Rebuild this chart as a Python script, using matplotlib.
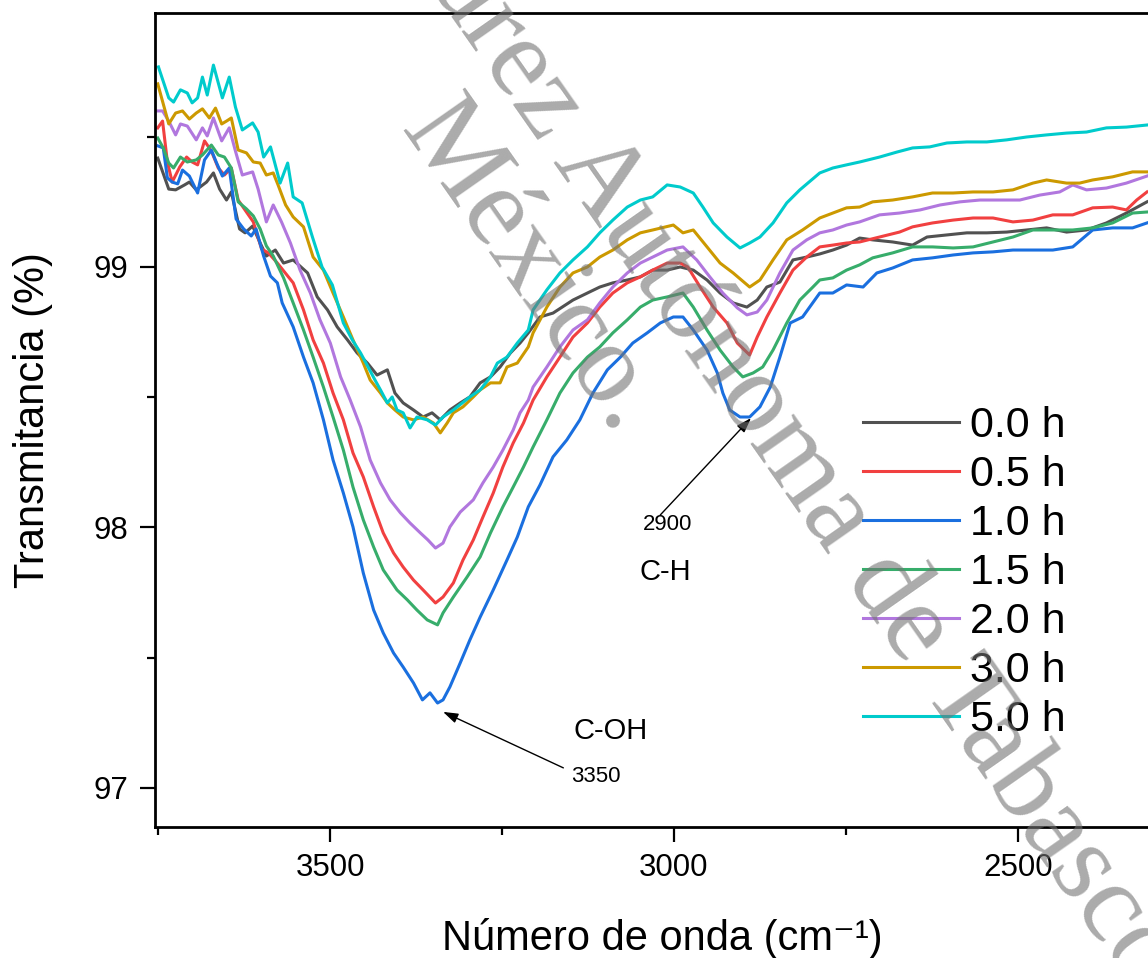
#!/usr/bin/env python3
"""FTIR spectra (transmittance vs wavenumber) for different treatment times."""

import matplotlib
matplotlib.use("Agg")
import matplotlib.pyplot as plt
from matplotlib.ticker import MultipleLocator

plt.rcParams["font.family"] = ["Liberation Sans", "DejaVu Sans"]

# ---- data (wavenumber cm-1, transmittance %) ----
LABELS = ["0.0 h", "0.5 h", "1.0 h", "1.5 h", "2.0 h", "3.0 h", "5.0 h"]
COLORS = ["#515151", "#F14040", "#1A6FDF", "#37AD6B", "#B177DE", "#CC9900", "#00CBCC"]

WN_00 = [3751, 3735, 3725, 3712, 3705, 3695, 3680, 3670, 3661, 3651,
         3644, 3632, 3624, 3613, 3602, 3593, 3580, 3568, 3554, 3533,
         3519, 3504, 3490, 3475, 3461, 3446, 3432, 3417, 3406, 3394,
         3379, 3365, 3352, 3340, 3326, 3311, 3297, 3282, 3267, 3253,
         3238, 3224, 3212, 3195, 3176, 3147, 3126, 3108, 3089, 3068,
         3049, 3031, 3010, 2991, 2972, 2952, 2933, 2914, 2894, 2879,
         2865, 2846, 2827, 2807, 2788, 2769, 2749, 2730, 2711, 2682,
         2653, 2632, 2603, 2574, 2545, 2516, 2487, 2458, 2429, 2400,
         2371, 2342, 2312]
T_00 = [99.418, 99.299, 99.296, 99.315, 99.326, 99.296, 99.326, 99.361, 99.299, 99.257,
        99.288, 99.146, 99.131, 99.157, 99.092, 99.042, 99.065, 99.015, 99.027, 98.977,
        98.885, 98.835, 98.770, 98.720, 98.670, 98.631, 98.585, 98.605, 98.516, 98.478,
        98.451, 98.424, 98.440, 98.413, 98.451, 98.478, 98.501, 98.555, 98.578, 98.616,
        98.670, 98.708, 98.747, 98.808, 98.823, 98.873, 98.900, 98.923, 98.939, 98.950,
        98.962, 98.988, 98.988, 99.000, 98.988, 98.950, 98.900, 98.862, 98.846, 98.873,
        98.923, 98.942, 99.027, 99.038, 99.050, 99.065, 99.084, 99.111, 99.104, 99.096,
        99.084, 99.115, 99.123, 99.131, 99.131, 99.134, 99.142, 99.150, 99.134, 99.142,
        99.169, 99.207, 99.250]

WN_05 = [3751, 3744, 3737, 3730, 3719, 3709, 3701, 3693, 3683, 3673,
         3663, 3654, 3644, 3634, 3622, 3612, 3600, 3590, 3577, 3554,
         3539, 3525, 3510, 3496, 3481, 3467, 3452, 3437, 3423, 3408,
         3394, 3379, 3365, 3347, 3336, 3321, 3307, 3292, 3278, 3263,
         3249, 3234, 3219, 3205, 3185, 3166, 3147, 3126, 3108, 3089,
         3068, 3049, 3031, 3010, 2991, 2980, 2962, 2943, 2923, 2908,
         2890, 2879, 2865, 2846, 2827, 2807, 2788, 2769, 2749, 2730,
         2701, 2672, 2653, 2624, 2594, 2565, 2536, 2507, 2478, 2449,
         2420, 2391, 2362, 2342, 2327, 2312]
T_05 = [99.534, 99.560, 99.403, 99.326, 99.384, 99.422, 99.403, 99.392, 99.484, 99.445,
        99.380, 99.353, 99.380, 99.257, 99.211, 99.173, 99.069, 99.054, 99.015, 98.939,
        98.835, 98.720, 98.631, 98.516, 98.413, 98.286, 98.194, 98.079, 97.979, 97.902,
        97.848, 97.798, 97.760, 97.710, 97.733, 97.787, 97.875, 97.952, 98.040, 98.132,
        98.232, 98.324, 98.401, 98.489, 98.578, 98.654, 98.731, 98.785, 98.846, 98.900,
        98.939, 98.962, 98.988, 99.015, 99.015, 99.000, 98.923, 98.846, 98.785, 98.708,
        98.662, 98.731, 98.808, 98.900, 98.988, 99.038, 99.077, 99.084, 99.092, 99.096,
        99.115, 99.134, 99.154, 99.169, 99.180, 99.188, 99.188, 99.173, 99.180, 99.200,
        99.200, 99.227, 99.230, 99.219, 99.257, 99.288]

WN_10 = [3751, 3743, 3737, 3730, 3722, 3715, 3705, 3693, 3683, 3673,
         3666, 3657, 3647, 3637, 3626, 3615, 3608, 3597, 3587, 3577,
         3570, 3554, 3539, 3525, 3510, 3496, 3481, 3467, 3452, 3437,
         3423, 3408, 3394, 3379, 3366, 3355, 3344, 3336, 3326, 3311,
         3297, 3282, 3263, 3243, 3228, 3212, 3195, 3176, 3156, 3137,
         3118, 3097, 3078, 3060, 3039, 3020, 3001, 2987, 2972, 2952,
         2937, 2929, 2919, 2904, 2890, 2875, 2860, 2846, 2831, 2813,
         2788, 2769, 2749, 2725, 2705, 2682, 2653, 2624, 2594, 2565,
         2536, 2507, 2478, 2449, 2420, 2391, 2362, 2333, 2312]
T_10 = [99.465, 99.457, 99.342, 99.326, 99.319, 99.372, 99.349, 99.284, 99.411, 99.449,
        99.403, 99.349, 99.380, 99.184, 99.146, 99.119, 99.146, 99.042, 98.965, 98.939,
        98.862, 98.770, 98.654, 98.555, 98.413, 98.259, 98.132, 98.002, 97.825, 97.683,
        97.595, 97.518, 97.464, 97.403, 97.338, 97.365, 97.326, 97.338, 97.388, 97.480,
        97.568, 97.656, 97.760, 97.875, 97.963, 98.079, 98.163, 98.271, 98.336, 98.413,
        98.516, 98.605, 98.654, 98.708, 98.747, 98.785, 98.808, 98.808, 98.758, 98.681,
        98.593, 98.516, 98.451, 98.424, 98.424, 98.463, 98.539, 98.654, 98.785, 98.808,
        98.900, 98.900, 98.931, 98.923, 98.977, 98.996, 99.027, 99.035, 99.046, 99.054,
        99.058, 99.065, 99.065, 99.065, 99.077, 99.142, 99.150, 99.150, 99.169]

WN_15 = [3751, 3743, 3735, 3728, 3718, 3708, 3695, 3686, 3673, 3663,
         3654, 3644, 3634, 3622, 3612, 3602, 3593, 3583, 3568, 3554,
         3539, 3525, 3510, 3496, 3481, 3467, 3452, 3437, 3423, 3403,
         3388, 3374, 3359, 3344, 3336, 3321, 3301, 3282, 3267, 3249,
         3234, 3219, 3205, 3185, 3166, 3147, 3126, 3108, 3089, 3068,
         3049, 3031, 3010, 2987, 2972, 2952, 2933, 2914, 2900, 2885,
         2871, 2856, 2836, 2817, 2798, 2788, 2769, 2749, 2730, 2711,
         2682, 2653, 2624, 2594, 2565, 2536, 2507, 2478, 2449, 2420,
         2391, 2362, 2333, 2312]
T_15 = [99.495, 99.457, 99.399, 99.380, 99.422, 99.403, 99.411, 99.430, 99.468, 99.430,
        99.422, 99.380, 99.250, 99.223, 99.196, 99.146, 99.081, 99.042, 98.958, 98.862,
        98.758, 98.654, 98.539, 98.424, 98.297, 98.155, 98.029, 97.925, 97.837, 97.760,
        97.722, 97.683, 97.645, 97.626, 97.672, 97.733, 97.810, 97.887, 97.979, 98.079,
        98.155, 98.232, 98.309, 98.413, 98.516, 98.593, 98.654, 98.693, 98.747, 98.797,
        98.846, 98.873, 98.885, 98.900, 98.846, 98.758, 98.681, 98.616, 98.578, 98.593,
        98.616, 98.681, 98.785, 98.873, 98.923, 98.950, 98.958, 98.988, 99.008, 99.035,
        99.054, 99.077, 99.077, 99.073, 99.077, 99.096, 99.115, 99.142, 99.142, 99.142,
        99.150, 99.169, 99.207, 99.211]

WN_20 = [3751, 3744, 3735, 3725, 3718, 3708, 3695, 3686, 3679, 3670,
         3658, 3647, 3638, 3628, 3613, 3605, 3593, 3583, 3571, 3558,
         3544, 3529, 3515, 3500, 3485, 3471, 3456, 3442, 3427, 3413,
         3398, 3384, 3369, 3358, 3347, 3336, 3326, 3311, 3292, 3278,
         3263, 3249, 3234, 3224, 3212, 3205, 3185, 3166, 3147, 3126,
         3108, 3089, 3068, 3049, 3031, 3010, 2987, 2967, 2948, 2929,
         2908, 2894, 2879, 2865, 2846, 2827, 2807, 2788, 2769, 2749,
         2730, 2701, 2672, 2642, 2613, 2584, 2555, 2526, 2497, 2468,
         2439, 2420, 2400, 2371, 2342, 2312]
T_20 = [99.599, 99.599, 99.560, 99.507, 99.549, 99.541, 99.488, 99.534, 99.503, 99.572,
        99.484, 99.534, 99.445, 99.353, 99.365, 99.299, 99.173, 99.238, 99.173, 99.092,
        98.988, 98.900, 98.797, 98.708, 98.578, 98.489, 98.386, 98.259, 98.171, 98.106,
        98.056, 98.017, 97.979, 97.952, 97.921, 97.940, 98.002, 98.059, 98.106, 98.171,
        98.232, 98.297, 98.374, 98.440, 98.489, 98.539, 98.616, 98.693, 98.758, 98.797,
        98.862, 98.923, 98.977, 99.015, 99.038, 99.065, 99.077, 99.027, 98.962, 98.900,
        98.843, 98.816, 98.827, 98.873, 98.977, 99.065, 99.104, 99.131, 99.142, 99.161,
        99.173, 99.200, 99.207, 99.219, 99.238, 99.250, 99.257, 99.257, 99.257, 99.276,
        99.288, 99.315, 99.296, 99.303, 99.322, 99.349]

WN_30 = [3751, 3735, 3725, 3715, 3705, 3695, 3686, 3676, 3667, 3658,
         3651, 3644, 3634, 3622, 3612, 3602, 3593, 3583, 3576, 3565,
         3554, 3539, 3525, 3510, 3496, 3481, 3467, 3452, 3442, 3427,
         3417, 3406, 3394, 3379, 3365, 3350, 3340, 3330, 3321, 3307,
         3292, 3282, 3267, 3253, 3243, 3228, 3212, 3205, 3185, 3166,
         3147, 3126, 3108, 3089, 3068, 3049, 3031, 3001, 2987, 2972,
         2952, 2933, 2914, 2890, 2875, 2856, 2836, 2813, 2788, 2769,
         2749, 2730, 2711, 2682, 2653, 2624, 2594, 2565, 2536, 2507,
         2478, 2458, 2429, 2410, 2391, 2362, 2333, 2312]
T_30 = [99.703, 99.549, 99.591, 99.599, 99.568, 99.591, 99.607, 99.572, 99.610, 99.549,
        99.560, 99.572, 99.449, 99.438, 99.403, 99.399, 99.353, 99.361, 99.315, 99.238,
        99.192, 99.154, 99.038, 98.988, 98.900, 98.808, 98.720, 98.631, 98.566, 98.516,
        98.478, 98.451, 98.424, 98.413, 98.424, 98.401, 98.363, 98.401, 98.440, 98.463,
        98.501, 98.528, 98.555, 98.555, 98.616, 98.631, 98.693, 98.747, 98.846, 98.923,
        98.977, 99.000, 99.038, 99.065, 99.104, 99.131, 99.142, 99.161, 99.131, 99.142,
        99.077, 99.015, 98.977, 98.923, 98.950, 99.027, 99.104, 99.142, 99.188, 99.207,
        99.227, 99.230, 99.250, 99.257, 99.269, 99.284, 99.284, 99.288, 99.288, 99.296,
        99.322, 99.334, 99.322, 99.322, 99.334, 99.346, 99.365, 99.365]

WN_50 = [3750, 3735, 3728, 3718, 3708, 3701, 3693, 3686, 3679, 3670,
         3657, 3647, 3638, 3628, 3613, 3605, 3597, 3587, 3573, 3562,
         3554, 3541, 3526, 3512, 3497, 3481, 3468, 3456, 3445, 3435,
         3427, 3417, 3410, 3403, 3394, 3384, 3374, 3359, 3347, 3336,
         3321, 3308, 3297, 3282, 3267, 3257, 3243, 3228, 3212, 3205,
         3185, 3166, 3147, 3126, 3108, 3089, 3068, 3049, 3031, 3010,
         2991, 2972, 2958, 2943, 2923, 2904, 2890, 2875, 2856, 2836,
         2817, 2788, 2769, 2749, 2730, 2701, 2676, 2653, 2628, 2603,
         2574, 2545, 2516, 2487, 2458, 2429, 2400, 2371, 2342, 2312]
T_50 = [99.768, 99.649, 99.633, 99.680, 99.668, 99.630, 99.649, 99.729, 99.660, 99.775,
        99.649, 99.729, 99.614, 99.526, 99.553, 99.518, 99.422, 99.461, 99.322, 99.399,
        99.269, 99.246, 99.115, 99.000, 98.931, 98.785, 98.720, 98.670, 98.616, 98.566,
        98.528, 98.478, 98.501, 98.451, 98.440, 98.382, 98.424, 98.413, 98.393, 98.424,
        98.451, 98.478, 98.501, 98.528, 98.578, 98.631, 98.654, 98.708, 98.758, 98.835,
        98.912, 98.977, 99.027, 99.077, 99.131, 99.180, 99.230, 99.257, 99.269, 99.315,
        99.307, 99.284, 99.230, 99.169, 99.115, 99.073, 99.092, 99.115, 99.169, 99.246,
        99.296, 99.361, 99.380, 99.392, 99.403, 99.422, 99.441, 99.457, 99.461, 99.476,
        99.480, 99.480, 99.488, 99.499, 99.507, 99.514, 99.518, 99.534, 99.537, 99.545]

SERIES = [(WN_00, T_00), (WN_05, T_05), (WN_10, T_10), (WN_15, T_15),
          (WN_20, T_20), (WN_30, T_30), (WN_50, T_50)]

BAND_3350 = ("3350", "C-OH")
BAND_2900 = ("2900", "C-H")

WATERMARK_1 = "Universidad Juárez Autónoma de Tabasco"
WATERMARK_2 = "México."


def main() -> None:
    fig = plt.figure(figsize=(11.48, 9.58), dpi=100)
    W, H = 1148.0, 958.0
    ax = fig.add_axes([155 / W, 1 - 827 / H, 1014 / W, 814 / H])

    for (wn, t), label, color in zip(SERIES, LABELS, COLORS):
        ax.plot(wn, t, color=color, lw=2.2, label=label)

    ax.set_xlim(3755, 2280)
    ax.set_ylim(96.85, 99.975)
    ax.xaxis.set_major_locator(MultipleLocator(500))
    ax.xaxis.set_minor_locator(MultipleLocator(250))
    ax.yaxis.set_major_locator(MultipleLocator(1))
    ax.yaxis.set_minor_locator(MultipleLocator(0.5))

    for side in ("left", "bottom", "top", "right"):
        ax.spines[side].set_linewidth(2.0)
    ax.tick_params(which="major", direction="out", length=11, width=1.6,
                   labelsize=22.5, pad=8, top=False, right=False)
    ax.tick_params(which="minor", direction="out", length=6, width=1.6,
                   top=False, right=False)

    ax.set_xlabel("Número de onda (cm\u207b\u00b9)", fontsize=30, labelpad=25)
    ax.set_ylabel("Transmitancia (%)", fontsize=30, labelpad=29)

    # band annotations
    arrow = dict(arrowstyle="-|>,head_length=0.9,head_width=0.3",
                 color="black", lw=1.0, shrinkA=0, shrinkB=0)
    ax.annotate("", xy=(3336, 97.292), xytext=(3161, 97.077), arrowprops=arrow)
    ax.text(3113, 97.042, BAND_3350[0], fontsize=16, ha="center", va="center")
    ax.text(3092, 97.219, BAND_3350[1], fontsize=21, ha="center", va="center")

    ax.annotate("", xy=(2888, 98.420), xytext=(3020, 98.048), arrowprops=arrow)
    ax.text(3009, 98.013, BAND_2900[0], fontsize=16, ha="center", va="center")
    ax.text(3012, 97.829, BAND_2900[1], fontsize=21, ha="center", va="center")

    ax.legend(loc="upper left", bbox_to_anchor=(863 / W, 1 - 406 / H),
              bbox_transform=fig.transFigure, frameon=False, fontsize=31,
              handlelength=2.23, handletextpad=0.26, labelspacing=0.21,
              borderpad=0, borderaxespad=0)

    # thesis watermark
    wm = dict(family=["Liberation Serif", "DejaVu Serif"], fontsize=82,
              color="0.45", alpha=0.6, rotation=-55, rotation_mode="anchor",
              ha="center", va="center", zorder=10)
    fig.text(608 / W, 1 - 193 / H, WATERMARK_1, **wm)
    fig.text(530 / W, 1 - 268 / H, WATERMARK_2, **wm)

    fig.savefig("out.png", dpi=100, facecolor="white")
    plt.close(fig)


if __name__ == "__main__":
    main()
